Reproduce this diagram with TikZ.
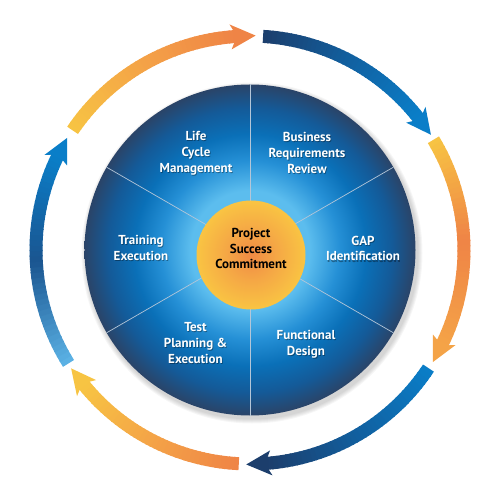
\documentclass[tikz,border=0pt]{standalone}
\usepackage{fontspec}
\setmainfont{PT Sans}
\definecolor{dA}{HTML}{5CBDEE}
\definecolor{dB}{HTML}{2590D6}
\definecolor{dC}{HTML}{0A70B8}
\definecolor{dD}{HTML}{145A98}
\definecolor{dE}{HTML}{2A4468}
\definecolor{oA}{HTML}{F08A44}
\definecolor{oB}{HTML}{F5A845}
\definecolor{oC}{HTML}{F9C443}
\definecolor{yel}{HTML}{F7C443}
\definecolor{yelor}{HTML}{F4A347}
\definecolor{ora}{HTML}{EF8446}
\definecolor{navy}{HTML}{1C3E6C}
\definecolor{midblue}{HTML}{1160A0}
\definecolor{brblue}{HTML}{0A7EC8}
\definecolor{ltblue}{HTML}{5CB3E6}
\definecolor{dkmid}{HTML}{1A5590}
\definecolor{spokec}{HTML}{B4C6D8}
\pgfdeclareradialshading{discshade}{\pgfpoint{0bp}{0bp}}{%
  color(0bp)=(dA); color(9bp)=(dA); color(13.5bp)=(dB); color(17.5bp)=(dC); color(21.5bp)=(dD); color(25bp)=(dE); color(50bp)=(dE)}
\pgfdeclareradialshading{coreshade}{\pgfpoint{0bp}{0bp}}{%
  color(0bp)=(oA); color(12bp)=(oB); color(25bp)=(oC); color(50bp)=(oC)}
\tikzset{
  lab/.style={text=white, font=\bfseries\fontsize{13}{15.8}\selectfont, align=center, inner sep=0pt},
  labshadow/.style={text=black, text opacity=0.35, font=\bfseries\fontsize{13}{15.8}\selectfont, align=center, inner sep=0pt},
  corelab/.style={text=black, font=\bfseries\fontsize{13}{15.8}\selectfont, align=center, inner sep=0pt},
  spoke/.style={draw=spokec, line width=0.7pt}
}
% tail angle, tip angle, tail colour, middle colour, head colour
\newcommand\ringarrow[5]{%
  \pgfmathsetmacro\hbase{#2+5.9}%
  \foreach \k in {0,...,39}{%
    \pgfmathsetmacro\segA{#1+(\hbase-(#1))*\k/40}%
    \pgfmathsetmacro\segB{#1+(\hbase-(#1))*(\k+1)/40-0.35}%
    \ifnum\k<20
      \pgfmathtruncatemacro\pct{(\k+0.5)*5}\colorlet{segc}{#4!\pct!#3}%
    \else
      \pgfmathtruncatemacro\pct{(\k-19.5)*5}\colorlet{segc}{#5!\pct!#4}%
    \fi
    \fill[segc] (\segA:207.5) arc[start angle=\segA, end angle=\segB, radius=207.5]
      -- (\segB:220.5) arc[start angle=\segB, end angle=\segA, radius=220.5] -- cycle;
  }%
  \fill[#5] (\hbase:207.5) -- (\hbase+0.8:201.5) -- (#2:214.5) -- (\hbase+0.8:226.5) -- (\hbase:220.5) -- cycle;
}
\newcommand\lbl[4]{% name, position, style, text
  \node[labshadow] (#1s) at ($#2+(0.8,-1.2)$) {#4};
  \node[#3] (#1) at #2 {#4};
}
\usetikzlibrary{calc}
\begin{document}
\begin{tikzpicture}[x=1pt,y=1pt]
\useasboundingbox (-250,-250) rectangle (250,250);
% outer ring of arrows
\ringarrow{146}{88.5}{yel}{yelor}{ora}
\ringarrow{86.5}{32.5}{navy}{midblue}{brblue}
\ringarrow{31}{-31.5}{yel}{ora}{yelor}
\ringarrow{-33.5}{-91}{brblue}{midblue}{navy}
\ringarrow{-93}{-146.5}{ora}{yelor}{yel}
\ringarrow{212}{148.5}{ltblue}{dkmid}{brblue}
% disc shadow
\foreach \s in {1,...,5}{\fill[black, opacity=0.035] (2,-3) circle[radius=165.5+\s];}
% main disc
\shade[shading=discshade] (0,0) circle[radius=165.5];
\foreach \a in {30,90,...,330}{\draw[spoke] (0,0) -- (\a:165.5);}
% core
\shade[shading=coreshade] (1,-5) circle[radius=54.5];
\coordinate (ctr) at (0,0);
% labels
\lbl{lcm}{(-54,97)}{lab}{Life\\Cycle\\Management}
\lbl{brr}{(57,97)}{lab}{Business\\Requirements\\Review}
\lbl{gap}{(113,1.5)}{lab}{GAP\\Identification}
\lbl{trn}{(-109,2)}{lab}{Training\\Execution}
\lbl{tpe}{(-54.5,-93)}{lab}{Test\\Planning \&\\Execution}
\lbl{fnd}{(56,-94)}{lab}{Functional\\Design}
\node[corelab] (core) at (1,1.5) {Project\\Success\\Commitment};
\end{tikzpicture}
\end{document}
